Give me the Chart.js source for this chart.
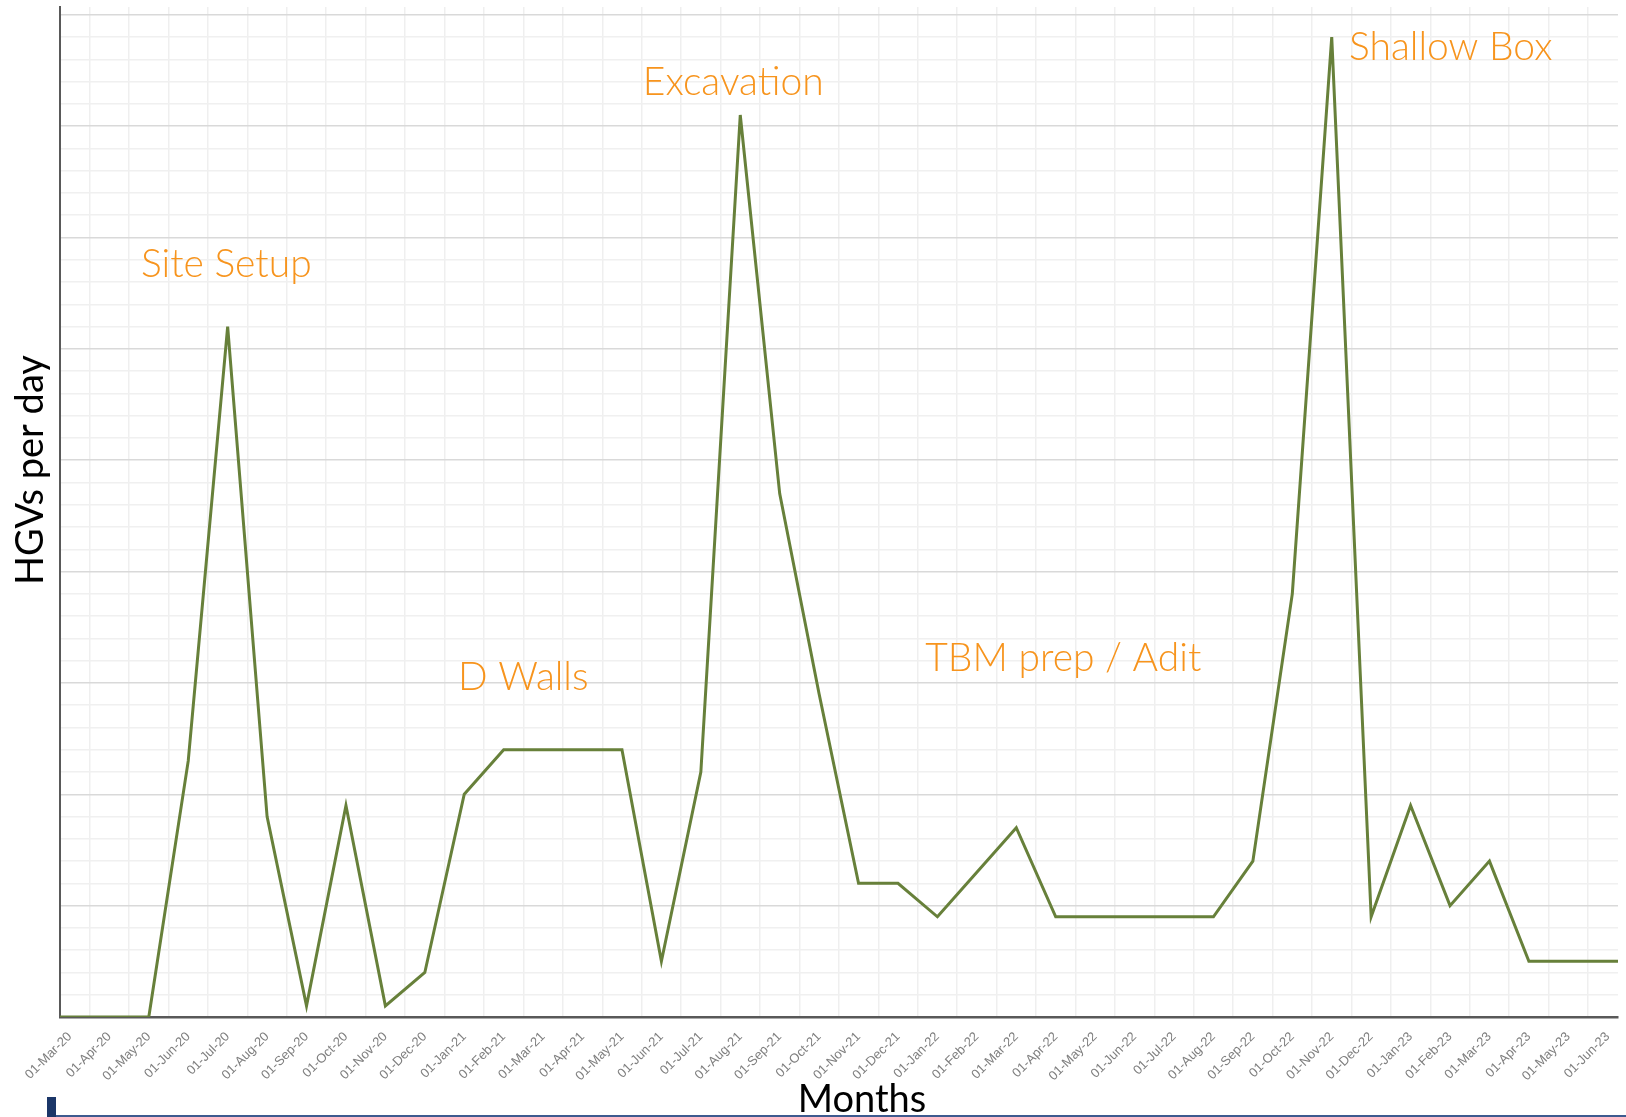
<!DOCTYPE html>
<html>
<head>
<meta charset="utf-8">
<title>HGVs per day</title>
<script src="https://cdn.jsdelivr.net/npm/chart.js@4.4.1/dist/chart.umd.min.js"></script>
<style>
  body { margin: 0; background: #fff; }
  #wrap { position: relative; width: 1626px; height: 1117px; overflow: hidden; }
  #bar { position: absolute; left: 47px; top: 1097px; width: 9px; height: 20px; background: #1b3668; }
  #rule { position: absolute; left: 56px; top: 1115px; width: 1570px; height: 2px; background: #3d5a8f; }
</style>
</head>
<body>
<div id="wrap">
  <canvas id="myChart" width="1626" height="1117"></canvas>
  <div id="bar"></div>
  <div id="rule"></div>
</div>
<script>
// Months on the x axis (first and last fall just outside the visible range)
const months = [
  '01-Feb-20', '01-Mar-20', '01-Apr-20', '01-May-20', '01-Jun-20', '01-Jul-20',
  '01-Aug-20', '01-Sep-20', '01-Oct-20', '01-Nov-20', '01-Dec-20',
  '01-Jan-21', '01-Feb-21', '01-Mar-21', '01-Apr-21', '01-May-21', '01-Jun-21',
  '01-Jul-21', '01-Aug-21', '01-Sep-21', '01-Oct-21', '01-Nov-21', '01-Dec-21',
  '01-Jan-22', '01-Feb-22', '01-Mar-22', '01-Apr-22', '01-May-22', '01-Jun-22',
  '01-Jul-22', '01-Aug-22', '01-Sep-22', '01-Oct-22', '01-Nov-22', '01-Dec-22',
  '01-Jan-23', '01-Feb-23', '01-Mar-23', '01-Apr-23', '01-May-23', '01-Jun-23',
  '01-Jul-23'
]

// HGVs per day
const hgvs = [
  0, 0, 0, 0, 23, 62, 18, 1, 19, 1, 4,
  20, 24, 24, 24, 24, 5, 22, 81, 47, 29, 12, 12,
  9, 13, 17, 9, 9, 9, 9, 9, 14, 38, 88, 9,
  19, 10, 14, 5, 5, 5, 5
]

// phase labels, anchored in month / value units
const phaseNames = ['Site Setup', 'D Walls', 'Excavation', 'TBM prep / Adit', 'Shallow Box']
const phaseMonth = [2.8, 10.84, 15.53, 22.69, 33.44]
const phaseLevel = [66.45, 29.4, 82.8, 31.07, 85.94]

const xMin = 0.748
const xMax = 40.26
const yMax = 90.7

const textPlugin = {
  id: 'texts',
  afterDraw (chart) {
    const ctx = chart.ctx
    const x = chart.scales.x
    const y = chart.scales.y
    ctx.save()
    ctx.textAlign = 'left'
    ctx.textBaseline = 'alphabetic'
    ctx.fillStyle = '#f7941d'
    ctx.font = '300 39px Lato'
    phaseNames.forEach(function (name, i) {
      ctx.fillText(name, x.getPixelForValue(phaseMonth[i]), y.getPixelForValue(phaseLevel[i]))
    })

    // axis titles
    ctx.fillStyle = '#000'
    ctx.font = '38px Lato'
    ctx.textAlign = 'center'
    ctx.fillText('Months', 862, 1112)
    ctx.translate(43, 470)
    ctx.rotate(-Math.PI / 2)
    ctx.fillText('HGVs per day', 0, 0)
    ctx.restore()
  }
}

const ctx = document.getElementById('myChart')
// eslint-disable-next-line no-unused-vars
const myChart = new Chart(ctx, {
  type: 'line',
  data: {
    datasets: [{
      data: hgvs.map(function (v, i) { return { x: i, y: v } }),
      borderColor: '#67803a',
      borderWidth: 3,
      pointRadius: 0,
      tension: 0,
      fill: false
    }]
  },
  options: {
    responsive: false,
    animation: false,
    devicePixelRatio: 1,
    layout: {
      padding: { left: 60, right: 8, top: 7, bottom: 0 }
    },
    plugins: {
      legend: { display: false },
      tooltip: { enabled: false }
    },
    scales: {
      x: {
        type: 'linear',
        min: xMin,
        max: xMax,
        afterBuildTicks: function (scale) {
          scale.ticks = months
            .map(function (m, i) { return { value: i } })
            .filter(function (t) { return t.value >= scale.min && t.value <= scale.max })
        },
        afterFit: function (scale) {
          scale.height = 100
          scale.paddingLeft = 0
          scale.paddingRight = 0
        },
        grid: {
          offset: true,
          drawTicks: false,
          color: '#efefef',
          lineWidth: 1.5
        },
        border: { display: true, color: '#595959', width: 2.5 },
        ticks: {
          autoSkip: false,
          minRotation: 45,
          maxRotation: 45,
          padding: 12,
          color: '#7f7f7f',
          font: { family: 'Liberation Sans', size: 13 },
          callback: function (value) { return months[value] }
        }
      },
      y: {
        min: 0,
        max: yMax,
        afterBuildTicks: function (scale) {
          const t = []
          for (let v = 0; v <= 90; v += 2) t.push({ value: v })
          scale.ticks = t
        },
        afterFit: function (scale) { scale.width = 0 },
        grid: {
          drawTicks: false,
          lineWidth: 1.5,
          color: function (c) {
            return c.tick && c.tick.value % 10 === 0 ? '#d9d9d9' : '#f0f0f0'
          }
        },
        border: { display: true, color: '#595959', width: 2 },
        ticks: { display: false }
      }
    }
  },
  plugins: [textPlugin]
})
</script>
</body>
</html>
